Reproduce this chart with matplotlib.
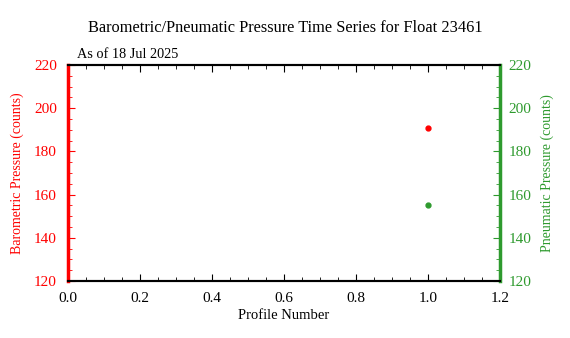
import matplotlib
matplotlib.use("Agg")
import matplotlib.pyplot as plt
from matplotlib.ticker import MultipleLocator

plt.rcParams['font.family'] = ['Liberation Serif', 'DejaVu Serif']
plt.rcParams['font.size'] = 10

float_id = "23461"
as_of = "18 Jul 2025"
profiles = [1]
baro = [191]
pneu = [155]

RED = '#ff0000'
GREEN = '#2e9a2e'

fig = plt.figure(figsize=(5.7, 3.38), dpi=100)
ax = fig.add_axes([68/570, 1 - 281/338, (500-68)/570, (281-65)/338])
ax2 = ax.twinx()

ax.plot(profiles, baro, 'o', color=RED, markersize=3.5)
ax2.plot(profiles, pneu, 'o', color=GREEN, markersize=3.5)

ax.set_xlim(0, 1.2)
ax.set_ylim(120, 220)
ax2.set_ylim(120, 220)
ax.xaxis.set_major_locator(MultipleLocator(0.2))
ax.xaxis.set_minor_locator(MultipleLocator(0.05))
for a in (ax, ax2):
    a.yaxis.set_major_locator(MultipleLocator(20))
    a.yaxis.set_minor_locator(MultipleLocator(5))

ax.tick_params(axis='x', which='both', direction='in', top=True, colors='black',
               labelsize=11, pad=8)
ax.tick_params(axis='x', which='major', length=5)
ax.tick_params(axis='x', which='minor', length=3)
ax.tick_params(axis='y', which='both', direction='in', colors=RED, labelsize=11, pad=8)
ax.tick_params(axis='y', which='major', length=5)
ax.tick_params(axis='y', which='minor', length=3)
ax2.tick_params(axis='y', which='both', direction='in', colors=GREEN, labelsize=11, pad=6)
ax2.tick_params(axis='y', which='major', length=5)
ax2.tick_params(axis='y', which='minor', length=3)

ax.spines['left'].set_color(RED)
ax.spines['left'].set_linewidth(2.5)
ax2.spines['left'].set_visible(False)
ax2.spines['right'].set_color(GREEN)
ax2.spines['right'].set_linewidth(2.5)
ax.spines['right'].set_visible(False)
for a in (ax, ax2):
    a.spines['top'].set_linewidth(1.5)
    a.spines['bottom'].set_linewidth(1.5)

ax.set_xlabel('Profile Number', fontsize=10.5, labelpad=3)
ax.set_ylabel('Barometric Pressure (counts)', color=RED, fontsize=10, labelpad=7)
ax2.set_ylabel('Pneumatic Pressure (counts)', color=GREEN, fontsize=10, labelpad=7)

fig.text(0.5, 1 - 28/338, f'Barometric/Pneumatic Pressure Time Series for Float {float_id}',
         ha='center', va='center', fontsize=11.8)
ax.text(0.02, 1.02, f'As of {as_of}', transform=ax.transAxes, ha='left', va='bottom',
        fontsize=10.3)

fig.savefig('out.png', dpi=100)
